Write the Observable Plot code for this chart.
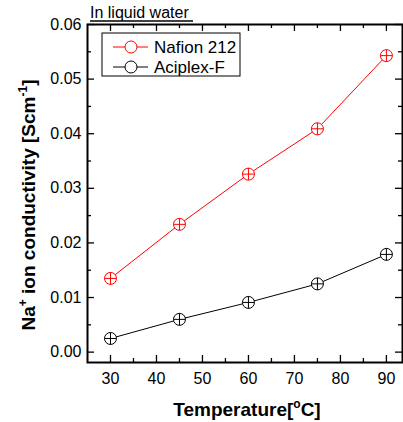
<!DOCTYPE html>
<html>
<head>
<meta charset="utf-8">
<script src="https://cdn.jsdelivr.net/npm/d3@7"></script>
<script src="https://cdn.jsdelivr.net/npm/@observablehq/plot@0.6"></script>
<style>
  html, body { margin: 0; padding: 0; background: #fff; }
  #chart { width: 403px; height: 422px; }
</style>
</head>
<body>
<div id="chart"></div>
<script>
const temperatures = [30, 45, 60, 75, 90];
const nafion212 = [0.0135, 0.0234, 0.0326, 0.0409, 0.0543];
const aciplexF = [0.0025, 0.0060, 0.0091, 0.0125, 0.0179];
const seriesNames = ["Nafion 212", "Aciplex-F"];
const seriesColors = ["#ff0000", "#000000"];
const xMajorTicks = [30, 40, 50, 60, 70, 80, 90];
const xMinorTicks = [35, 45, 55, 65, 75, 85];
const yMajorTicks = [0, 0.01, 0.02, 0.03, 0.04, 0.05, 0.06];
const yMinorTicks = [0.005, 0.015, 0.025, 0.035, 0.045, 0.055];
const titleText = "In liquid water";

const rows = [];
[nafion212, aciplexF].forEach((vals, si) => {
  temperatures.forEach((t, i) => rows.push({series: seriesNames[si], t, v: vals[i]}));
});

const W = 403, H = 422;
const mL = 87, mR = 1, mT = 24, mB = 60;
const iw = W - mL - mR, ih = H - mT - mB;
const font = "Liberation Sans, Arial, sans-serif";

const crossSymbol = {
  draw(ctx, size) {
    const r = Math.sqrt(size / Math.PI);
    ctx.moveTo(-r, 0); ctx.lineTo(r, 0);
    ctx.moveTo(0, -r); ctx.lineTo(0, r);
  }
};

const plot = Plot.plot({
  width: W, height: H,
  marginLeft: mL, marginRight: mR, marginTop: mT, marginBottom: mB,
  style: {fontFamily: font, fontSize: "16px", background: "#fff", color: "#000"},
  x: {domain: [25, 93.5]},
  y: {domain: [-0.0019, 0.06]},
  color: {domain: seriesNames, range: seriesColors},
  marks: [
    Plot.axisX({ticks: xMajorTicks, tickSize: 0, tickPadding: 10, fontSize: 16, label: null}),
    Plot.axisY({ticks: yMajorTicks, tickSize: 0, tickPadding: 6, fontSize: 16, label: null, tickFormat: d3.format(".2f")}),
    Plot.tickX(xMajorTicks, {x: d => d, insetTop: ih - 7, stroke: "#000", strokeWidth: 1.3}),
    Plot.tickX(xMinorTicks, {x: d => d, insetTop: ih - 4, stroke: "#000", strokeWidth: 1.3}),
    Plot.tickX(xMajorTicks, {x: d => d, insetBottom: ih - 7, stroke: "#000", strokeWidth: 1.3}),
    Plot.tickX(xMinorTicks, {x: d => d, insetBottom: ih - 4, stroke: "#000", strokeWidth: 1.3}),
    Plot.tickY(yMajorTicks, {y: d => d, insetRight: iw - 7, stroke: "#000", strokeWidth: 1.3}),
    Plot.tickY(yMinorTicks, {y: d => d, insetRight: iw - 4, stroke: "#000", strokeWidth: 1.3}),
    Plot.tickY(yMajorTicks, {y: d => d, insetLeft: iw - 7, stroke: "#000", strokeWidth: 1.3}),
    Plot.tickY(yMinorTicks, {y: d => d, insetLeft: iw - 4, stroke: "#000", strokeWidth: 1.3}),
    Plot.lineY(rows, {x: "t", y: "v", z: "series", stroke: "series", strokeWidth: 1}),
    Plot.dot(rows, {x: "t", y: "v", stroke: "series", fill: "#fff", r: 6, strokeWidth: 1}),
    Plot.dot(rows, {x: "t", y: "v", stroke: "series", symbol: crossSymbol, r: 6, strokeWidth: 1}),
    Plot.frame({stroke: "#000", strokeWidth: 2})
  ]
});

const svg = d3.select(plot);

// title
svg.append("text").attr("x", 90).attr("y", 18).attr("text-anchor", "start").attr("font-family", font)
  .attr("font-size", 16).attr("fill", "#000").text(titleText);
svg.append("line").attr("x1", 90).attr("x2", 193).attr("y1", 21).attr("y2", 21)
  .attr("stroke", "#000").attr("stroke-width", 1.5);

// axis labels
const xl = svg.append("text").attr("x", 247).attr("y", 416).attr("text-anchor", "middle")
  .attr("font-family", font).attr("font-size", 19).attr("font-weight", "bold").attr("fill", "#000");
xl.append("tspan").text("Temperature[");
xl.append("tspan").attr("font-size", 12).attr("dy", -8).text("o");
xl.append("tspan").attr("dy", 8).text("C]");

const yl = svg.append("text").attr("transform", "translate(35,205) rotate(-90)").attr("text-anchor", "middle")
  .attr("font-family", font).attr("font-size", 19).attr("font-weight", "bold").attr("fill", "#000");
yl.append("tspan").text("Na");
yl.append("tspan").attr("font-size", 12).attr("dy", -8).text("+");
yl.append("tspan").attr("dy", 8).text(" ion conductivity [Scm");
yl.append("tspan").attr("font-size", 12).attr("dy", -8).text("-1");
yl.append("tspan").attr("dy", 8).text("]");

// legend
const lg = svg.append("g");
lg.append("rect").attr("x", 102).attr("y", 33).attr("width", 138).attr("height", 43)
  .attr("fill", "#fff").attr("stroke", "#000").attr("stroke-width", 1);
seriesNames.forEach((name, i) => {
  const cy = 47 + i * 20;
  const c = seriesColors[i];
  lg.append("line").attr("x1", 113).attr("x2", 148).attr("y1", cy).attr("y2", cy).attr("stroke", c);
  lg.append("circle").attr("cx", 131).attr("cy", cy).attr("r", 6).attr("fill", "#fff").attr("stroke", c);
  lg.append("text").attr("x", 154).attr("y", cy + 6).attr("text-anchor", "start").attr("font-family", font)
    .attr("font-size", 17).attr("fill", "#000").text(name);
});

document.getElementById("chart").appendChild(plot);
</script>
</body>
</html>
